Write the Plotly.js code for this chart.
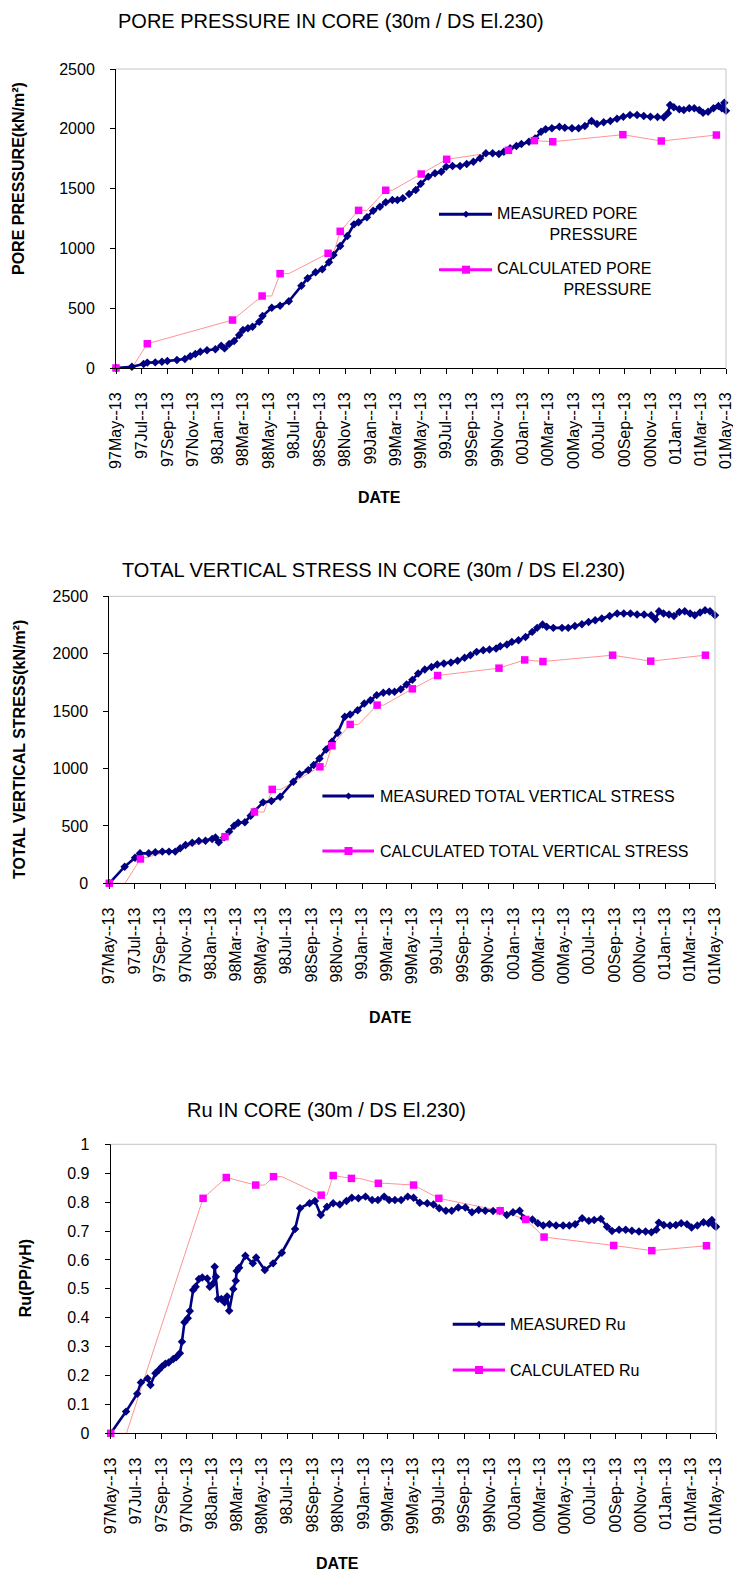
<!DOCTYPE html>
<html>
<head>
<meta charset="utf-8">
<script src="https://cdn.plot.ly/plotly-3.0.1.min.js"></script>
<style>
html,body{margin:0;padding:0;background:#ffffff;}
#chart{width:733px;height:1571px;}
</style>
</head>
<body>
<div id="chart"></div>
<script>
// ---------------- DATA ----------------
const tickDates = ['1997-05-13','1997-07-13','1997-09-13','1997-11-13','1998-01-13','1998-03-13','1998-05-13','1998-07-13','1998-09-13','1998-11-13','1999-01-13','1999-03-13','1999-05-13','1999-07-13','1999-09-13','1999-11-13','2000-01-13','2000-03-13','2000-05-13','2000-07-13','2000-09-13','2000-11-13','2001-01-13','2001-03-13','2001-05-13'];
const tickLabels = ['97May--13','97Jul--13','97Sep--13','97Nov--13','98Jan--13','98Mar--13','98May--13','98Jul--13','98Sep--13','98Nov--13','99Jan--13','99Mar--13','99May--13','99Jul--13','99Sep--13','99Nov--13','00Jan--13','00Mar--13','00May--13','00Jul--13','00Sep--13','00Nov--13','01Jan--13','01Mar--13','01May--13'];

// Chart 1 : measured pore pressure (kN/m2)
const ppMeasuredDates = ['1997-05-13','1997-06-20','1997-07-18','1997-07-27','1997-08-15','1997-08-31','1997-09-13','1997-10-06','1997-10-25','1997-11-07','1997-11-19','1997-12-01','1997-12-17','1998-01-06','1998-01-20','1998-01-28','1998-02-08','1998-02-20','1998-03-04','1998-03-13','1998-03-25','1998-04-05','1998-04-21','1998-04-29','1998-05-21','1998-06-10','1998-07-01','1998-07-31','1998-08-15','1998-09-03','1998-09-19','1998-10-05','1998-10-16','1998-11-01','1998-11-18','1998-12-04','1998-12-15','1999-01-04','1999-01-19','1999-02-04','1999-02-18','1999-03-06','1999-03-18','1999-03-31','1999-04-08','1999-04-15','1999-05-01','1999-05-13','1999-05-31','1999-06-16','1999-07-01','1999-07-13','1999-07-28','1999-08-15','1999-08-31','1999-09-16','1999-10-02','1999-10-16','1999-11-01','1999-11-16','1999-11-28','1999-12-13','1999-12-28','2000-01-09','2000-01-27','2000-02-11','2000-02-25','2000-03-07','2000-03-22','2000-04-09','2000-04-22','2000-05-09','2000-05-25','2000-06-09','2000-06-25','2000-07-08','2000-07-24','2000-08-09','2000-08-25','2000-09-09','2000-09-25','2000-10-12','2000-10-28','2000-11-13','2000-11-30','2000-12-15','2000-12-25','2000-12-30','2001-01-08','2001-01-21','2001-02-01','2001-02-14','2001-02-26','2001-03-10','2001-03-19','2001-03-31','2001-04-13','2001-04-25','2001-05-03','2001-05-09','2001-05-13'];
const ppMeasured = [0,11,33,45,47,53,58,67,75,98,117,136,148,156,187,164,200,226,276,318,332,345,387,435,504,521,558,688,750,800,825,884,945,1020,1104,1201,1218,1260,1315,1349,1385,1405,1405,1419,null,1455,1488,1540,1600,1628,1641,1683,1689,1689,1706,1725,1753,1795,1795,1789,1808,1837,1856,1873,1892,1920,1976,1996,2004,2018,2009,2004,2004,2023,2065,2040,2054,2065,2084,2101,2115,2115,2107,2101,2099,2096,2130,2199,2180,2163,2157,2171,2171,2157,2135,2143,2171,2190,2171,2218,2150];

// Calculated values (charts 1 and 2 share the same dates)
const calcDates = ['1997-05-13','1997-07-27','1998-02-16','1998-04-28','1998-06-10','1998-10-03','1998-11-01','1998-12-15','1999-02-18','1999-05-14','1999-07-14','1999-12-09','2000-02-09','2000-03-24','2000-09-08','2000-12-09','2001-04-20'];
const ppCalculated = [0,203,401,602,789,959,1143,1318,1486,1622,1745,1820,1901,1892,1951,1898,1948];
const tvsCalculated = [0,212,406,621,818,1015,1198,1384,1552,1694,1810,1874,1946,1932,1987,1935,1987];
// dates where the calculated line holds the previous value before rising
const calcHoldDates = ['1997-06-20','1998-05-21','1998-07-01','1998-10-16','1999-01-04','1999-03-06'];

// Chart 2 : measured total vertical stress (kN/m2)
const tvsMeasuredDates = ['1997-05-13','1997-06-19','1997-07-14','1997-07-26','1997-08-16','1997-09-01','1997-09-18','1997-10-04','1997-10-19','1997-10-31','1997-11-13','1997-11-29','1997-12-15','1997-12-31','1998-01-16','1998-01-24','1998-02-01','1998-02-14','1998-02-26','1998-03-10','1998-03-20','1998-04-05','1998-04-19','1998-04-27','1998-05-19','1998-06-08','1998-06-29','1998-07-31','1998-08-15','1998-09-05','1998-09-18','1998-10-02','1998-10-18','1998-11-01','1998-11-15','1998-12-02','1998-12-15','1999-01-02','1999-01-18','1999-02-02','1999-02-17','1999-03-05','1999-03-19','1999-04-01','1999-04-16','1999-04-30','1999-05-14','1999-05-28','1999-06-13','1999-06-29','1999-07-13','1999-07-29','1999-08-15','1999-08-31','1999-09-17','1999-10-01','1999-10-16','1999-11-01','1999-11-16','1999-12-02','1999-12-12','1999-12-28','2000-01-09','2000-01-25','2000-02-11','2000-02-27','2000-03-10','2000-03-23','2000-04-02','2000-04-18','2000-05-09','2000-05-24','2000-06-09','2000-06-26','2000-07-12','2000-07-28','2000-08-13','2000-09-01','2000-09-19','2000-10-05','2000-10-21','2000-11-06','2000-11-23','2000-12-10','2000-12-20','2000-12-29','2001-01-09','2001-01-22','2001-02-03','2001-02-16','2001-03-01','2001-03-14','2001-03-25','2001-04-07','2001-04-19','2001-05-01','2001-05-13'];
const tvsMeasured = [0,145,223,261,261,270,276,276,276,305,334,354,368,371,386,400,357,400,450,502,528,531,589,624,705,716,754,885,949,986,1030,1088,1166,1233,1311,1450,1471,1508,1566,1595,1639,1659,1668,1668,1691,1732,1772,1827,1862,1885,1906,1914,1923,1938,1964,1987,2016,2030,2036,2045,2065,2080,2103,2117,2146,2190,2225,2254,2234,2225,2225,2225,2242,2257,2277,2292,2306,2329,2350,2350,2350,2341,2341,2335,2300,2370,2350,2341,2329,2364,2370,2350,2335,2358,2379,2370,2335];

// Chart 3 : Ru
const ruMeasuredDates = ['1997-05-13','1997-06-19','1997-07-16','1997-07-25','1997-08-10','1997-08-17','1997-08-29','1997-09-06','1997-09-14','1997-09-22','1997-09-30','1997-10-11','1997-10-18','1997-10-27','1997-11-01','1997-11-07','1997-11-15','1997-11-20','1997-11-28','1997-12-04','1997-12-12','1997-12-20','1998-01-01','1998-01-07','1998-01-16','1998-01-19','1998-01-22','1998-01-27','1998-02-04','1998-02-12','1998-02-18','1998-02-23','1998-03-05','1998-03-11','1998-03-13','1998-03-19','1998-04-03','1998-04-21','1998-04-29','1998-05-20','1998-06-09','1998-06-30','1998-08-01','1998-08-13','1998-09-05','1998-09-18','1998-10-02','1998-10-17','1998-11-01','1998-11-17','1998-12-03','1998-12-16','1999-01-01','1999-01-18','1999-02-03','1999-02-17','1999-03-04','1999-03-16','1999-03-30','1999-04-14','1999-04-30','1999-05-14','1999-05-29','1999-06-16','1999-07-01','1999-07-15','1999-07-31','1999-08-14','1999-08-30','1999-09-16','1999-10-02','1999-10-18','1999-11-03','1999-11-22','1999-12-08','1999-12-25','2000-01-09','2000-01-25','2000-02-04','2000-02-25','2000-03-09','2000-03-22','2000-04-06','2000-04-22','2000-05-09','2000-05-24','2000-06-07','2000-06-24','2000-07-10','2000-07-23','2000-08-08','2000-08-23','2000-09-04','2000-09-21','2000-10-07','2000-10-22','2000-11-08','2000-11-24','2000-12-08','2000-12-20','2000-12-26','2001-01-07','2001-01-22','2001-02-05','2001-02-18','2001-03-04','2001-03-15','2001-03-29','2001-04-13','2001-04-25','2001-05-03','2001-05-09','2001-05-13'];
const ruMeasured = [0,0.075,0.137,0.176,0.190,0.167,0.208,0.219,0.231,0.241,0.245,0.257,0.263,0.277,0.317,0.384,0.398,0.423,0.496,0.507,0.534,0.539,0.536,0.507,0.519,0.576,0.542,0.465,0.465,0.453,0.473,0.424,0.499,0.528,0.562,0.573,0.614,0.588,0.608,0.565,0.588,0.625,0.707,0.779,0.796,0.804,0.755,0.784,0.796,0.792,0.804,0.815,0.813,0.819,0.807,0.807,0.819,0.807,0.807,0.807,0.819,0.815,0.798,0.796,0.792,0.779,0.770,0.770,0.781,0.781,0.765,0.773,0.770,0.769,0.770,0.755,0.765,0.770,0.744,0.740,0.727,0.719,0.723,0.719,0.719,0.719,0.723,0.744,0.735,0.738,0.742,0.715,0.700,0.704,0.704,0.701,0.698,0.698,0.696,0.704,0.729,0.721,0.719,0.721,0.727,0.723,0.712,0.719,0.730,0.727,0.738,0.719,0.715];
const ruCalcDates = ['1997-05-13','1997-12-22','1998-02-16','1998-04-28','1998-06-10','1998-10-03','1998-11-01','1998-12-15','1999-02-18','1999-05-14','1999-07-14','1999-12-09','2000-02-09','2000-03-24','2000-09-08','2000-12-09','2001-04-20'];
const ruCalculated = [0,0.813,0.885,0.859,0.888,0.824,0.892,0.882,0.865,0.859,0.813,0.770,0.740,0.679,0.650,0.632,0.649];
const ruHoldDates = ['1997-06-20','1998-05-20','1998-06-30','1998-10-17','1999-01-04','1999-03-06'];

// ---------------- STYLE / LAYOUT ----------------
const W = 733, H = 1571;
const F = 'Liberation Sans, Arial, Helvetica, sans-serif';
const NAVY = '#000080', MAG = '#ff00ff', PINKLINE = '#ff9494', BORDER = '#c4c4c4';
const px = x => x / W;
const py = y => 1 - y / H;

// calculated line: vertices are the calculated points plus "hold" points carrying the previous value
function holdLine(dates, vals, holds) {
  const pts = dates.map((d, i) => ({d: d, v: vals[i]}));
  holds.forEach(h => {
    let prev = null;
    dates.forEach((d, i) => { if (d <= h) prev = vals[i]; });
    pts.push({d: h, v: prev});
  });
  pts.sort((a, b) => (a.d < b.d ? -1 : a.d > b.d ? 1 : 0));
  return {x: pts.map(p => p.d), y: pts.map(p => p.v)};
}

function seriesTraces(mDates, mVals, cDates, cVals, holds, xa, ya) {
  const line = holdLine(cDates, cVals, holds);
  return [
    {type: 'scatter', mode: 'lines', x: line.x, y: line.y, xaxis: xa, yaxis: ya,
     line: {color: PINKLINE, width: 1}, hoverinfo: 'skip', showlegend: false, cliponaxis: false},
    {type: 'scatter', mode: 'lines+markers', x: mDates, y: mVals, xaxis: xa, yaxis: ya,
     line: {color: NAVY, width: 2.6}, marker: {symbol: 'diamond', size: 6.5, color: NAVY},
     showlegend: false, cliponaxis: false, connectgaps: false},
    {type: 'scatter', mode: 'markers', x: cDates, y: cVals, xaxis: xa, yaxis: ya,
     marker: {symbol: 'square', size: 7.5, color: MAG}, showlegend: false, cliponaxis: false}
  ];
}

const data = [].concat(
  seriesTraces(ppMeasuredDates, ppMeasured, calcDates, ppCalculated, calcHoldDates, 'x', 'y'),
  seriesTraces(tvsMeasuredDates, tvsMeasured, calcDates, tvsCalculated, calcHoldDates, 'x2', 'y2'),
  seriesTraces(ruMeasuredDates, ruMeasured, ruCalcDates, ruCalculated, ruHoldDates, 'x3', 'y3')
);

function xAxis(x0, x1, anchor) {
  return {
    type: 'date', domain: [px(x0), px(x1)], anchor: anchor,
    range: [tickDates[0], tickDates[tickDates.length - 1]],
    tickmode: 'array', tickvals: tickDates, ticktext: tickLabels, tickangle: -90,
    ticks: 'outside', ticklen: 5, tickwidth: 1, tickcolor: '#000',
    showline: true, linecolor: '#000', linewidth: 1, showgrid: false, zeroline: false,
    tickfont: {family: F, size: 16, color: '#000'}, ticklabelstandoff: 12,
    ticklabeloverflow: 'allow',
    automargin: false, fixedrange: true
  };
}
function yAxis(yTop, yBot, anchor, rng, dt) {
  return {
    domain: [py(yBot), py(yTop)], anchor: anchor, range: rng, dtick: dt, tick0: 0,
    ticks: 'outside', ticklen: 5, tickwidth: 1, tickcolor: '#000',
    showline: true, linecolor: '#000', linewidth: 1, showgrid: false, zeroline: false,
    tickfont: {family: F, size: 16, color: '#000'}, ticklabelstandoff: 12,
    ticklabeloverflow: 'allow',
    automargin: false, fixedrange: true
  };
}

function ann(text, x, y, opts) {
  return Object.assign({text: text, x: px(x), y: py(y), xref: 'paper', yref: 'paper',
    showarrow: false, xanchor: 'center', yanchor: 'middle',
    font: {family: F, size: 16, color: '#000'}}, opts || {});
}

const annotations = [
  ann('PORE PRESSURE IN CORE (30m / DS El.230)', 331, 20.5, {font: {family: F, size: 20, color: '#000'}}),
  ann('TOTAL VERTICAL STRESS IN CORE (30m / DS El.230)', 373.5, 570, {font: {family: F, size: 20, color: '#000'}}),
  ann('Ru IN CORE (30m / DS El.230)', 326.5, 1109.7, {font: {family: F, size: 20, color: '#000'}}),
  ann('<b>PORE PRESSURE(kN/m²)</b>', 18, 179, {textangle: -90}),
  ann('<b>TOTAL VERTICAL STRESS(kN/m²)</b>', 19.4, 749.6, {textangle: -90}),
  ann('<b>Ru(PP/γH)</b>', 25.2, 1278, {textangle: -90}),
  ann('<b>DATE</b>', 379, 497.5),
  ann('<b>DATE</b>', 390, 1017.5),
  ann('<b>DATE</b>', 337, 1563),
  // legends
  ann('MEASURED PORE<br>PRESSURE', 638.5, 223.8, {xanchor: 'right', align: 'right'}),
  ann('CALCULATED PORE<br>PRESSURE', 653, 278.8, {xanchor: 'right', align: 'right'}),
  ann('MEASURED TOTAL VERTICAL STRESS', 378, 796, {xanchor: 'left'}),
  ann('CALCULATED TOTAL VERTICAL STRESS', 378, 851, {xanchor: 'left'}),
  ann('MEASURED Ru', 508, 1324.3, {xanchor: 'left'}),
  ann('CALCULATED Ru', 508, 1370, {xanchor: 'left'})
];

function hline(x0, x1, y, color, w) {
  return {type: 'line', xref: 'paper', yref: 'paper', x0: px(x0), x1: px(x1), y0: py(y), y1: py(y),
          line: {color: color, width: w}};
}
function diamond(cx, cy, r) {
  return {type: 'path', xref: 'paper', yref: 'paper', fillcolor: NAVY, line: {width: 0},
    path: 'M' + px(cx - r) + ',' + py(cy) + ' L' + px(cx) + ',' + py(cy - r) + ' L' + px(cx + r) + ',' + py(cy) + ' L' + px(cx) + ',' + py(cy + r) + ' Z'};
}
function square(cx, cy, r) {
  return {type: 'rect', xref: 'paper', yref: 'paper', fillcolor: MAG, line: {width: 0},
    x0: px(cx - r), x1: px(cx + r), y0: py(cy + r), y1: py(cy - r)};
}
function frame(xa, ya) {
  return [
    {type: 'line', xref: xa + ' domain', yref: ya + ' domain', x0: 0, x1: 1, y0: 1, y1: 1, line: {color: BORDER, width: 1}},
    {type: 'line', xref: xa + ' domain', yref: ya + ' domain', x0: 1, x1: 1, y0: 0, y1: 1, line: {color: BORDER, width: 1}}
  ];
}

const shapes = [].concat(
  frame('x', 'y'), frame('x2', 'y2'), frame('x3', 'y3'),
  [hline(439, 492, 214.3, NAVY, 3), diamond(466, 214.3, 3.5),
   hline(439, 492, 269.7, MAG, 3), square(466, 269.7, 4),
   hline(322.4, 374, 796, NAVY, 3), diamond(348.5, 796, 3.5),
   hline(322.4, 374, 851, MAG, 3), square(348.5, 851, 4),
   hline(452.7, 505, 1324.3, NAVY, 3), diamond(479, 1324.3, 3.5),
   hline(452.7, 505, 1370, MAG, 3), square(479, 1370, 4)]
);

const layout = {
  width: W, height: H,
  margin: {l: 0, r: 0, t: 0, b: 0, pad: 0},
  paper_bgcolor: '#ffffff', plot_bgcolor: '#ffffff',
  showlegend: false,
  font: {family: F, color: '#000'},
  xaxis: xAxis(116, 726, 'y'),
  yaxis: yAxis(69, 368, 'x', [0, 2500], 500),
  xaxis2: xAxis(109.3, 715, 'y2'),
  yaxis2: yAxis(596.3, 883.3, 'x2', [0, 2500], 500),
  xaxis3: xAxis(110.7, 716, 'y3'),
  yaxis3: yAxis(1144.3, 1433.3, 'x3', [0, 1], 0.1),
  annotations: annotations,
  shapes: shapes
};

Plotly.newPlot('chart', data, layout, {staticPlot: true, displayModeBar: false});
</script>
</body>
</html>
